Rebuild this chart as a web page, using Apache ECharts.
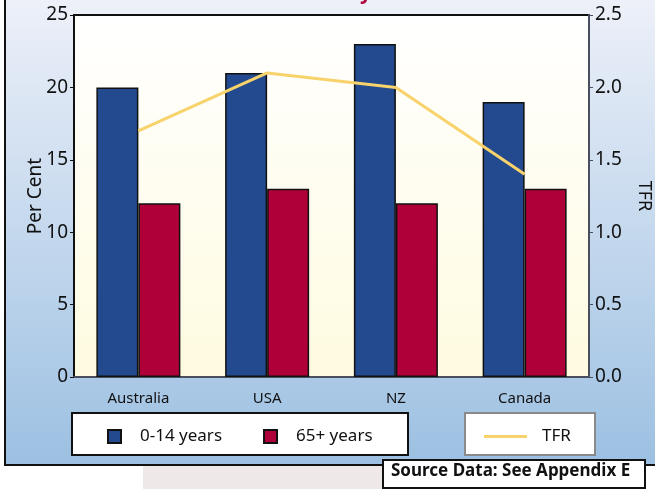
<!DOCTYPE html>
<html>
<head>
<meta charset="utf-8">
<script src="https://cdn.jsdelivr.net/npm/echarts@6/dist/echarts.min.js"></script>
<style>
  html, body { margin: 0; padding: 0; background: #fff; }
  #chart { width: 655px; height: 489px; }
</style>
</head>
<body>
<div id="chart"></div>
<script>
const countries = ["Australia", "USA", "NZ", "Canada"]
const young = [20, 21, 23, 19]       // 0-14 years, per cent
const old = [12, 13, 12, 13]         // 65+ years, per cent
const tfr = [1.7, 2.1, 2.0, 1.4]     // total fertility rate

const font = "Noto Sans"
const chart = echarts.init(document.getElementById("chart"))

chart.setOption({
  backgroundColor: "#ffffff",
  animation: false,
  textStyle: { fontFamily: font },
  graphic: [
    // grey strip under frame
    { type: "rect", z: -10, shape: { x: 143, y: 462, width: 242, height: 30 }, style: { fill: "#eee8e8" } },
    // outer frame with gradient
    {
      type: "rect", z: -5,
      shape: { x: 5, y: -6, width: 660, height: 471 },
      style: {
        fill: new echarts.graphic.LinearGradient(0, 0, 0, 1, [
          { offset: 0, color: "#eef1f9" },
          { offset: 1, color: "#9cc0e2" },
        ]),
        stroke: "#111", lineWidth: 2,
      },
    },
    // title fragment at the very top
    { type: "text", z: 5, left: 360, top: -17, style: { text: "y", fill: "#b0003a", font: "bold 20px Noto Sans" } },
    // legend boxes
    { type: "rect", z: 1, shape: { x: 72, y: 413, width: 336, height: 42 }, style: { fill: "#fff", stroke: "#111", lineWidth: 2 } },
    { type: "rect", z: 1, shape: { x: 465, y: 413, width: 130, height: 42 }, style: { fill: "#fff", stroke: "#8a8a8a", lineWidth: 2 } },
    // source note
    { type: "rect", z: 1, shape: { x: 383, y: 460, width: 262, height: 28 }, style: { fill: "#fff", stroke: "#111", lineWidth: 2 } },
    { type: "text", z: 2, left: 391, top: 463, style: { text: "Source Data: See Appendix E", fill: "#111", font: "bold 17px Noto Sans" } },
  ],
  grid: {
    left: 74, top: 15, width: 515, height: 362,
    outerBoundsMode: "none",
    containLabel: false,
    show: true,
    borderColor: "#111", borderWidth: 2,
    backgroundColor: new echarts.graphic.LinearGradient(0, 0, 0, 1, [
      { offset: 0, color: "#ffffff" },
      { offset: 1, color: "#fffbe0" },
    ]),
  },
  legend: [
    {
      data: [{ name: "0-14 years", icon: "rect" }, { name: "65+ years", icon: "rect" }],
      left: 102, top: 423,
      itemWidth: 13, itemHeight: 13, itemGap: 41,
      textStyle: { fontSize: 17, color: "#111", fontFamily: font, padding: [0, 0, 0, 14] },
    },
    {
      data: [{ name: "TFR", icon: "rect" }],
      left: 479, top: 423,
      itemWidth: 43, itemHeight: 3,
      textStyle: { fontSize: 17, color: "#111", fontFamily: font, padding: [0, 0, 0, 10] },
    },
  ],
  xAxis: {
    type: "category",
    data: countries,
    axisLine: { lineStyle: { color: "#4a4f60", width: 2 } },
    axisTick: { show: false },
    axisLabel: { color: "#111", fontSize: 15, margin: 14 },
  },
  yAxis: [
    {
      type: "value", min: 0, max: 25, interval: 5,
      name: "Per Cent", nameLocation: "middle", nameGap: 29, nameMoveOverlap: false,
      nameTextStyle: { fontSize: 19, color: "#111" },
      axisLine: { show: true, lineStyle: { color: "#111", width: 2 } },
      axisTick: { show: true, length: 4, lineStyle: { color: "#111" } },
      axisLabel: { color: "#111", fontSize: 19, margin: 6 },
      splitLine: { show: false },
    },
    {
      type: "value", min: 0, max: 2.5, interval: 0.5, position: "right",
      name: "TFR", nameLocation: "middle", nameGap: 46, nameRotate: -90,
      nameTextStyle: { fontSize: 18, color: "#111" },
      axisLine: { show: true, lineStyle: { color: "#4a4f60", width: 2 } },
      axisTick: { show: true, length: 4, lineStyle: { color: "#4a4f60" } },
      axisLabel: { color: "#111", fontSize: 19, margin: 6, formatter: (v) => v.toFixed(1) },
      splitLine: { show: false },
    },
  ],
  series: [
    {
      name: "0-14 years", type: "bar", data: young,
      barWidth: 42, barGap: "0%",
      itemStyle: { color: "#234a8f", borderColor: "#111", borderWidth: 1.5 },
    },
    {
      name: "65+ years", type: "bar", data: old,
      barWidth: 42,
      itemStyle: { color: "#b0003a", borderColor: "#111", borderWidth: 1.5 },
    },
    {
      name: "TFR", type: "line", yAxisIndex: 1, data: tfr,
      symbol: "none", z: 5,
      lineStyle: { color: "#f8d36c", width: 3 },
      itemStyle: { color: "#f8d36c" },
    },
  ],
})
</script>
</body>
</html>
